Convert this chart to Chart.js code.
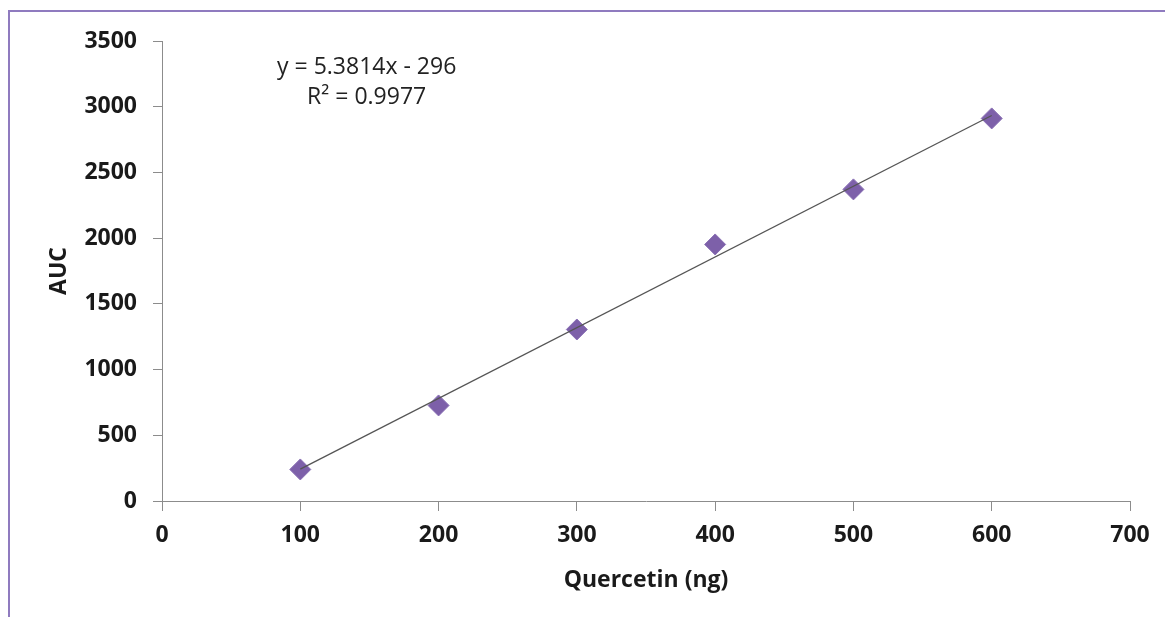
<!DOCTYPE html>
<html>
<head>
<meta charset="utf-8">
<script src="https://cdn.jsdelivr.net/npm/chart.js@4/dist/chart.umd.min.js"></script>
<style>
  html, body { margin: 0; padding: 0; background: #fff; overflow: hidden; }
  #wrap { width: 1165px; height: 617px; position: relative; }
</style>
</head>
<body>
<div id="wrap"><canvas id="mycanvas" width="1165" height="617"></canvas></div>
<script>
// data
var quercetinNg = [100, 200, 300, 400, 500, 600];
var aucValues = [240, 727, 1305, 1952, 2371, 2911];

// linear trendline (Excel), drawn between the first and last sample
var trendX = [100, 600];
var trendY = [242, 2933];

var equationLines = ["y = 5.3814x - 296", "R\u00b2 = 0.9977"];
var equationAt = { x: 148, y: [3300, 3070] };

var FONT = "'Open Sans', 'Liberation Sans', sans-serif";

function toPoints(xs, ys) {
  var pts = [];
  for (var i in xs) {
    pts.push({ x: xs[i], y: ys[i] });
  }
  return pts;
}

// purple frame round the figure
var framePlugin = {
  id: "frame",
  beforeDraw: function(chart) {
    var ctx = chart.ctx;
    ctx.save();
    ctx.fillStyle = "#ffffff";
    ctx.fillRect(0, 0, chart.width, chart.height);
    ctx.strokeStyle = "#8f7bbf";
    ctx.lineWidth = 2;
    ctx.beginPath();
    ctx.moveTo(9, chart.height);
    ctx.lineTo(9, 11);
    ctx.lineTo(chart.width, 11);
    ctx.stroke();
    ctx.restore();
  }
};

// trendline equation text
var equationPlugin = {
  id: "equation",
  afterDatasetsDraw: function(chart) {
    var ctx = chart.ctx;
    var xs = chart.scales.x, ys = chart.scales.y;
    ctx.save();
    ctx.font = "23px " + FONT;
    ctx.fillStyle = "#222";
    ctx.textAlign = "center";
    ctx.textBaseline = "middle";
    for (var i = 0; i < equationLines.length; i++) {
      ctx.fillText(equationLines[i], xs.getPixelForValue(equationAt.x), ys.getPixelForValue(equationAt.y[i]));
    }
    ctx.restore();
  }
};

var chartdata = {
  datasets: [
    {
      label: "trend",
      data: toPoints(trendX, trendY),
      showLine: true,
      borderColor: "#555555",
      borderWidth: 1.3,
      pointRadius: 0,
      fill: false,
      order: 0
    },
    {
      label: "AUC",
      data: toPoints(quercetinNg, aucValues),
      pointStyle: "rectRot",
      pointRadius: 10.5,
      backgroundColor: "#7d60a9",
      borderColor: "#8a70b5",
      borderWidth: 1,
      showLine: false,
      order: 1
    }
  ]
};

var tickFont = { family: FONT, size: 23, weight: "bold" };
var plainTick = function(value) { return String(value); };

var ctx = document.getElementById("mycanvas");
var ScatterGraph = new Chart(ctx, {
  type: "scatter",
  data: chartdata,
  plugins: [framePlugin, equationPlugin],
  options: {
    responsive: false,
    animation: false,
    layout: { padding: { top: 41, right: 35, bottom: 0, left: 0 } },
    plugins: { legend: { display: false }, tooltip: { enabled: false } },
    scales: {
      x: {
        type: "linear",
        min: 0, max: 700,
        ticks: { stepSize: 100, color: "#1a1a1a", font: tickFont, padding: 11, maxRotation: 0, callback: plainTick },
        grid: { drawOnChartArea: false, drawTicks: true, tickLength: 10, color: "#8c8c8c" },
        border: { display: true, color: "#8c8c8c", width: 1 },
        title: { display: true, text: "Quercetin (ng)", color: "#1a1a1a", font: tickFont, padding: { top: 0, bottom: 23 } },
        afterFit: function(scale) { scale.height = 116; }
      },
      y: {
        type: "linear",
        min: 0, max: 3500,
        ticks: { stepSize: 500, color: "#1a1a1a", font: tickFont, padding: 16, callback: plainTick },
        grid: { drawOnChartArea: false, drawTicks: true, tickLength: 9, color: "#8c8c8c" },
        border: { display: true, color: "#8c8c8c", width: 1 },
        title: { display: true, text: "AUC", color: "#1a1a1a", font: tickFont, padding: { top: 46, bottom: 0 } },
        afterFit: function(scale) { scale.width = 162; }
      }
    }
  }
});
</script>
</body>
</html>
